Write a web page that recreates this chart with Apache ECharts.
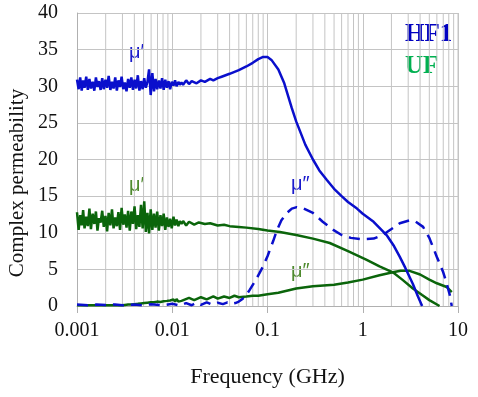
<!DOCTYPE html>
<html>
<head>
<meta charset="utf-8">
<script src="https://cdn.jsdelivr.net/npm/echarts@6/dist/echarts.min.js"></script>
<style>
  html, body { margin: 0; padding: 0; background: #fff; }
  #chart { width: 478px; height: 397px; }
</style>
</head>
<body>
<div id="chart"></div>
<script>
// frequency grid (GHz) for the noisy low-frequency part
var noiseFreq = [
  0.00100, 0.00104, 0.00108, 0.00112, 0.00116, 0.00120, 0.00125, 0.00130, 0.00135, 0.00140,
  0.00146, 0.00152, 0.00158, 0.00164, 0.00170, 0.00177, 0.00184, 0.00191, 0.00199, 0.00207,
  0.00215, 0.00224, 0.00233, 0.00242, 0.00252, 0.00262, 0.00272, 0.00283, 0.00294, 0.00306,
  0.00318, 0.00331, 0.00344, 0.00358, 0.00372, 0.00387, 0.00402, 0.00418, 0.00435, 0.00452,
  0.00470, 0.00489, 0.00508, 0.00528, 0.00549, 0.00571, 0.00594, 0.00618, 0.00643, 0.00668,
  0.00695, 0.00723, 0.00752, 0.00782, 0.00813, 0.00845, 0.00879, 0.00914, 0.00950, 0.00988,
  0.0103, 0.0107, 0.0111, 0.0116, 0.0120, 0.0125
];

// HF1 mu' (blue solid)
var hf1RealNoise = [
  30.9, 29.6, 31.2, 29.4, 30.8, 29.8, 31.3, 29.5, 31.0, 29.7,
  30.6, 29.4, 31.2, 29.9, 30.7, 29.5, 31.1, 29.6, 30.9, 29.8,
  31.4, 29.5, 30.6, 29.7, 31.2, 29.4, 30.8, 29.9, 31.3, 29.6,
  30.5, 29.3, 31.0, 29.8, 31.2, 29.5, 30.9, 29.7, 31.5, 29.4,
  30.7, 29.6, 31.1, 29.8, 30.6, 32.3, 28.8, 31.8, 29.3, 31.0,
  29.6, 30.8, 29.7, 31.1, 29.5, 30.9, 29.8, 30.7, 29.6, 30.6,
  30.1, 30.8, 30.0, 30.6, 30.2, 30.5
];
var hf1RealFreq = [0.013, 0.014, 0.015, 0.016, 0.018, 0.020, 0.022, 0.025, 0.027, 0.030, 0.033, 0.04, 0.05, 0.06, 0.07, 0.08, 0.09, 0.1, 0.11, 0.13, 0.15, 0.18, 0.2, 0.25, 0.3, 0.35, 0.42, 0.5, 0.6, 0.7, 0.87, 1.0, 1.3, 1.6, 1.8, 2.1, 2.45, 2.8, 3.36, 3.8, 4.2];
var hf1RealVal  = [30.2, 30.8, 30.3, 30.7, 30.4, 30.8, 30.6, 31.0, 30.8, 31.1, 31.3, 31.7, 32.2, 32.7, 33.2, 33.7, 34.0, 34.0, 33.6, 32.3, 30.4, 27.0, 25.2, 22.0, 20.0, 18.5, 17.2, 16.0, 15.0, 14.2, 13.3, 12.6, 11.5, 10.3, 9.6, 8.3, 6.7, 5.2, 3.0, 1.3, 0];

// HF1 mu'' (blue dashed)
var hf1ImagFreq = [0.001, 0.0013, 0.0016, 0.002, 0.0025, 0.003, 0.004, 0.005, 0.006, 0.008, 0.01, 0.012, 0.014, 0.016, 0.018, 0.02, 0.023, 0.026, 0.03, 0.034, 0.038, 0.042, 0.046, 0.05, 0.055, 0.06, 0.065, 0.075, 0.089, 0.1, 0.115, 0.126, 0.14, 0.16, 0.18, 0.203, 0.24, 0.3, 0.38, 0.49, 0.6, 0.75, 1.0, 1.3, 1.62, 2.0, 2.45, 3.1, 3.6, 4.3, 5.0, 6.0, 7.0, 7.6, 8.2, 8.6];
var hf1ImagVal  = [0.2, 0.1, 0.2, 0.15, 0.2, 0.1, 0.2, 0.1, 0.25, 0.1, 0.3, 0.05, 0.4, 0.1, 0.45, 0.15, 0.5, 0.2, 0.45, 0.25, 0.5, 0.3, 0.4, 0.6, 1.0, 1.5, 2.2, 3.5, 5.3, 6.8, 8.9, 10.4, 11.7, 12.7, 13.3, 13.5, 13.3, 12.7, 11.5, 10.4, 9.7, 9.3, 9.1, 9.2, 9.7, 10.5, 11.3, 11.7, 11.5, 10.8, 9.3, 6.7, 4.6, 3.1, 1.5, 0];

// UF mu' (green solid)
var ufRealNoise = [
  12.8, 10.4, 12.4, 11.0, 13.1, 10.6, 12.2, 10.9, 13.3, 10.5,
  12.6, 11.2, 12.9, 10.3, 12.0, 11.4, 13.0, 10.8, 12.3, 10.2,
  12.7, 11.0, 13.2, 10.6, 12.1, 10.9, 12.8, 10.4, 13.4, 11.1,
  12.5, 10.7, 13.0, 10.3, 12.9, 11.2, 13.6, 10.5, 12.4, 10.8,
  13.8, 10.6, 14.3, 10.1, 12.7, 9.9, 13.2, 10.4, 12.6, 10.7,
  12.9, 10.3, 12.4, 10.9, 12.6, 10.4, 12.1, 10.8, 11.9, 10.6,
  12.2, 11.0, 11.8, 10.9, 11.6, 11.2
];
var ufRealFreq = [0.013, 0.014, 0.015, 0.017, 0.019, 0.022, 0.025, 0.03, 0.035, 0.04, 0.05, 0.06, 0.08, 0.1, 0.135, 0.2, 0.3, 0.45, 0.7, 1.1, 1.5, 2.07, 2.6, 3.36, 4.2, 5.0, 6.4];
var ufRealVal  = [11.6, 11.0, 11.5, 11.1, 11.4, 11.2, 11.3, 11.0, 11.1, 10.9, 10.8, 10.7, 10.5, 10.3, 10.1, 9.7, 9.2, 8.6, 7.5, 6.3, 5.4, 4.6, 3.6, 2.4, 1.5, 0.8, 0];

// UF mu'' (green)
var ufImagNoise = [
  0.1, 0.0, 0.1, 0.05, 0.1, 0.0, 0.1, 0.05, 0.1, 0.0,
  0.1, 0.05, 0.1, 0.0, 0.1, 0.05, 0.1, 0.0, 0.1, 0.05,
  0.1, 0.0, 0.1, 0.05, 0.1, 0.05, 0.1, 0.0, 0.1, 0.05,
  0.15, 0.05, 0.2, 0.1, 0.2, 0.1, 0.25, 0.15, 0.3, 0.2,
  0.35, 0.2, 0.4, 0.25, 0.45, 0.3, 0.5, 0.35, 0.5, 0.3,
  0.6, 0.35, 0.55, 0.4, 0.65, 0.4, 0.7, 0.45, 0.75, 0.5,
  0.9, 0.6, 0.95, 0.6, 0.85, 0.7
];
var ufImagFreq = [0.013, 0.015, 0.017, 0.02, 0.023, 0.027, 0.03, 0.035, 0.04, 0.045, 0.05, 0.06, 0.07, 0.08, 0.1, 0.13, 0.2, 0.3, 0.5, 0.7, 1.0, 1.5, 2.07, 2.5, 3.1, 4.0, 5.0, 6.0, 7.6, 8.6];
var ufImagVal  = [0.7, 1.1, 0.8, 1.2, 0.9, 1.3, 1.0, 1.3, 1.1, 1.4, 1.2, 1.3, 1.4, 1.4, 1.6, 1.8, 2.4, 2.7, 2.9, 3.2, 3.6, 4.2, 4.6, 4.8, 4.8, 4.3, 3.6, 3.1, 2.6, 1.9];

var xTickLabels = ['0.001', '0.01', '0.1', '1', '10'];
var minorGridFreq = [
  0.002, 0.003, 0.004, 0.005, 0.006, 0.007, 0.008, 0.009,
  0.02, 0.03, 0.04, 0.05, 0.06, 0.07, 0.08, 0.09,
  0.2, 0.3, 0.4, 0.5, 0.6, 0.7, 0.8, 0.9,
  2, 3, 4, 5, 6, 7, 8, 9
];

function pairs(fs, vs){
  var out = [];
  for (var i = 0; i < fs.length; i++) out.push([fs[i], vs[i]]);
  return out;
}

var blue = '#0a0fcc';
var green = '#0b650b';
var serif = '"Liberation Serif", "Times New Roman", serif';
var gridColor = '#c4c4c4';

var chart = echarts.init(document.getElementById('chart'));
chart.setOption({
  animation: false,
  backgroundColor: '#fff',
  grid: { left: 77, right: 20, top: 13, bottom: 91 },
  xAxis: {
    type: 'log', logBase: 10, min: 0.001, max: 10,
    name: 'Frequency (GHz)', nameLocation: 'middle', nameGap: 60,
    nameTextStyle: { fontFamily: serif, fontSize: 22, color: '#111' },
    axisLine: { show: true, lineStyle: { color: '#b0b0b0' } },
    axisTick: { show: true, length: 7, lineStyle: { color: '#b0b0b0' } },
    axisLabel: {
      fontFamily: serif, fontSize: 20, color: '#111', margin: 15,
      formatter: function(v, i){ return xTickLabels[i] !== undefined ? xTickLabels[i] : ''; }
    },
    splitLine: { show: true, lineStyle: { color: gridColor } }
  },
  yAxis: {
    type: 'value', min: 0, max: 40, interval: 5,
    axisLine: { show: true, lineStyle: { color: '#b0b0b0' } },
    axisTick: { show: false },
    axisLabel: { fontFamily: serif, fontSize: 20, color: '#111', margin: 19 },
    splitLine: { show: true, lineStyle: { color: gridColor } }
  },
  graphic: [
    { type: 'text', x: 17, y: 183, rotation: Math.PI / 2,
      style: { text: 'Complex permeability', fontFamily: serif, fontSize: 21, fill: '#111', align: 'center', verticalAlign: 'middle' } },
    { type: 'text', left: 405, top: 22, style: { text: 'HF1', fontFamily: serif, fontWeight: 'bold', fontSize: 25, fill: '#0000c0' } },
    { type: 'text', left: 405, top: 54, style: { text: 'UF', fontFamily: serif, fontWeight: 'bold', fontSize: 25, fill: '#00b050' } },
    { type: 'text', left: 129, top: 42, style: { text: 'μ′', fontFamily: 'Liberation Sans, sans-serif', fontSize: 20, fill: '#1a1acc' } },
    { type: 'text', left: 129, top: 175, style: { text: 'μ′', fontFamily: 'Liberation Sans, sans-serif', fontSize: 20, fill: '#4e8a2e' } },
    { type: 'text', left: 291, top: 174, style: { text: 'μ″', fontFamily: 'Liberation Sans, sans-serif', fontSize: 20, fill: '#1a1acc' } },
    { type: 'text', left: 291, top: 261, style: { text: 'μ″', fontFamily: 'Liberation Sans, sans-serif', fontSize: 20, fill: '#4e8a2e' } }
  ],
  series: [
    {
      // minor vertical gridlines of the log axis, plus the top/right frame
      type: 'custom', z: 1,
      encode: { x: 0, y: 1 },
      data: minorGridFreq.concat([10]).map(function(f){ return [f, 0]; }),
      renderItem: function(params, api){
        var a = api.coord([api.value(0), 0]);
        var b = api.coord([api.value(0), 40]);
        return {
          type: 'line',
          shape: { x1: a[0], y1: a[1], x2: b[0], y2: b[1] },
          style: { stroke: gridColor, lineWidth: 1 }
        };
      }
    },
    {
      name: 'UF mu\'\'', type: 'line', showSymbol: false, z: 3,
      lineStyle: { color: green, width: 2.5 },
      data: pairs(noiseFreq, ufImagNoise).concat(pairs(ufImagFreq, ufImagVal))
    },
    {
      name: 'HF1 mu\'\'', type: 'line', showSymbol: false, z: 4,
      lineStyle: { color: blue, width: 2.5, type: [11, 7] },
      data: pairs(hf1ImagFreq, hf1ImagVal)
    },
    {
      name: 'UF mu\'', type: 'line', showSymbol: false, z: 5,
      lineStyle: { color: green, width: 2.5 },
      data: pairs(noiseFreq, ufRealNoise).concat(pairs(ufRealFreq, ufRealVal))
    },
    {
      name: 'HF1 mu\'', type: 'line', showSymbol: false, z: 6,
      lineStyle: { color: blue, width: 2.5 },
      data: pairs(noiseFreq, hf1RealNoise).concat(pairs(hf1RealFreq, hf1RealVal))
    }
  ]
});
</script>
</body>
</html>
